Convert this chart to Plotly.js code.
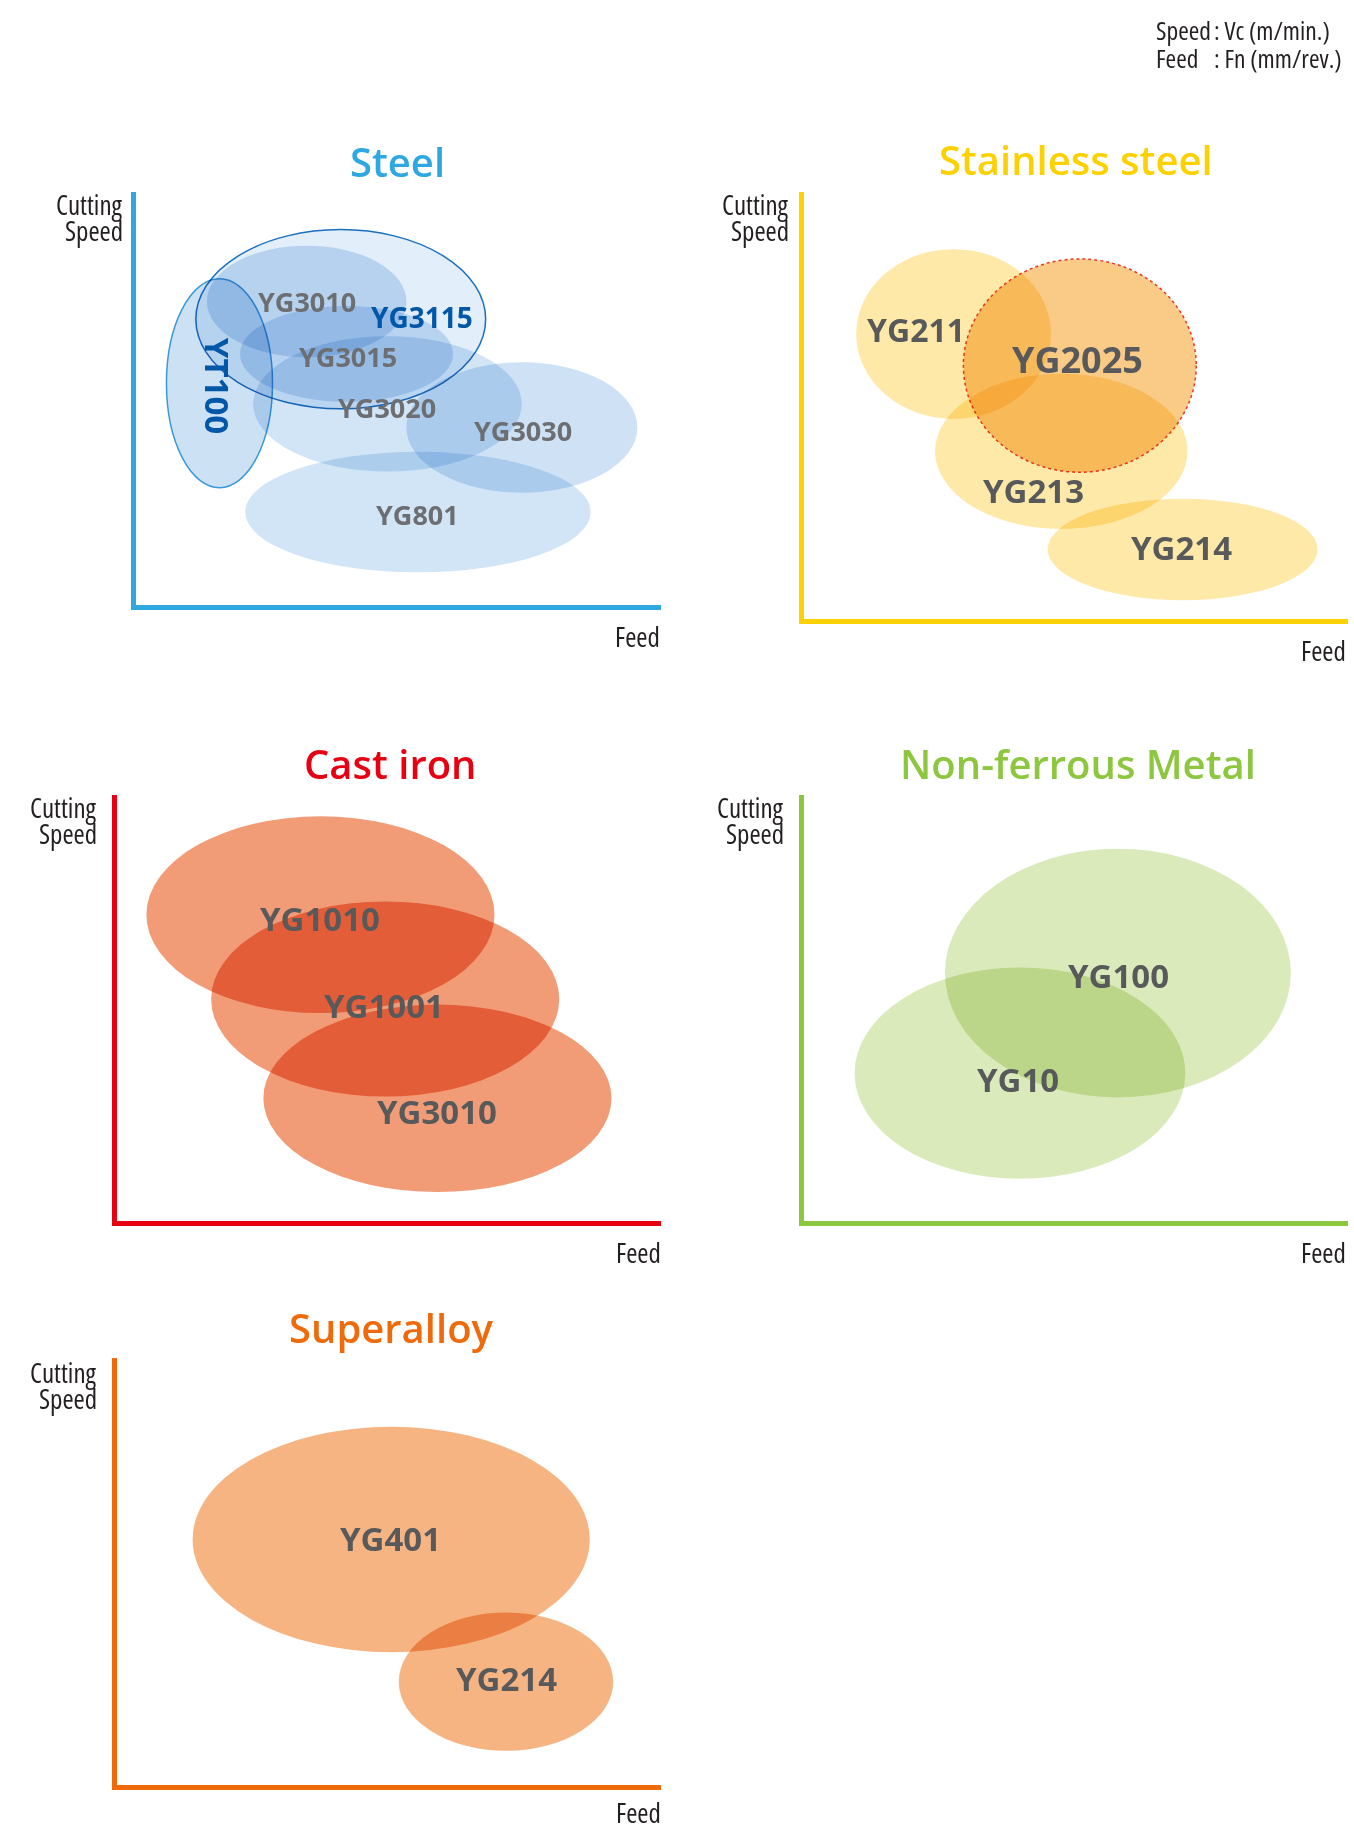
<!DOCTYPE html>
<html>
<head>
<meta charset="utf-8">
<script src="https://cdn.plot.ly/plotly-3.0.1.min.js"></script>
<style>
  html, body { margin: 0; padding: 0; background: #fff; }
  #chart { width: 1354px; height: 1825px; }
  /* overlapping regions darken like print inks */
  .shapelayer g, .shapelayer path { mix-blend-mode: multiply; }
  /* narrow face for the axis names and the units note */
  text[style*="Condensed"] { font-stretch: 75%; }
</style>
</head>
<body>
<div id="chart"></div>
<script>
// --- Grade regions: centre and half-spread on relative Feed / Cutting Speed (0-100) ---
const steelNames  = ['YG801', 'YG3030', 'YG3020', 'YG3015', 'YG3010', 'YT100', 'YG3115'];
const steelFeed   = [53.7, 73.5, 47.9, 40.1, 32.5, 15.9, 39.0];
const steelSpeed  = [22.5, 43.0, 48.7, 60.8, 73.5, 53.7, 69.2];
const steelFeedR  = [32.9, 22.0, 25.6, 20.3, 19.0, 10.1, 27.6];
const steelSpeedR = [14.6, 15.8, 16.4, 11.6, 13.5, 25.3, 21.7];
const steelLabelFeed  = [53.7, 73.7, 47.8, 40.4, 32.6, 15.4, 54.4];
const steelLabelSpeed = [21.9, 42.3, 47.9, 60.2, 73.4, 53.1, 69.8];

const stainNames  = ['YG214', 'YG213', 'YG211', 'YG2025'];
const stainFeed   = [69.6, 47.3, 27.5, 50.7];
const stainSpeed  = [16.2, 39.2, 66.7, 59.3];
const stainFeedR  = [24.8, 23.2, 17.9, 21.4];
const stainSpeedR = [11.9, 18.2, 19.9, 25.0];
const stainLabelFeed  = [69.4, 42.2, 20.5, 50.3];
const stainLabelSpeed = [16.7, 30.1, 67.8, 60.8];

const castNames  = ['YG1010', 'YG1001', 'YG3010'];
const castFeed   = [37.4, 49.3, 58.9];
const castSpeed  = [71.9, 52.1, 28.8];
const castFeedR  = [32.0, 32.0, 32.0];
const castSpeedR = [23.1, 22.9, 22.0];
const castLabelFeed  = [37.4, 49.1, 58.8];
const castLabelSpeed = [70.9, 50.6, 25.8];

const nonfNames  = ['YG100', 'YG10'];
const nonfFeed   = [57.7, 39.7];
const nonfSpeed  = [58.2, 34.7];
const nonfFeedR  = [31.8, 30.4];
const nonfSpeedR = [29.2, 24.8];
const nonfLabelFeed  = [57.8, 39.4];
const nonfLabelSpeed = [57.7, 33.3];

const superNames  = ['YG401', 'YG214'];
const superFeed   = [50.4, 71.5];
const superSpeed  = [57.5, 24.2];
const superFeedR  = [36.5, 19.7];
const superSpeedR = [26.4, 16.2];
const superLabelFeed  = [50.3, 71.6];
const superLabelSpeed = [57.7, 24.9];

// --- Styles ---
const W = 1354, H = 1825;
const px = x => x / W;
const py = y => 1 - y / H;
const condensed = '"Open Sans", "DejaVu Sans Condensed", sans-serif';
const bold = '"Open Sans", "Noto Sans", sans-serif';
const GRAY = '#58595b';
const INK = '#231f20';

const panels = [
  { title: 'Steel', color: '#2fa8e1', box: [136, 661, 192, 605], titleX: 397, titleY: 161,
    speedLabel: [125, 205, 231], feedLabel: [662, 636],
    names: steelNames, feed: steelFeed, speed: steelSpeed, feedR: steelFeedR, speedR: steelSpeedR,
    lf: steelLabelFeed, ls: steelLabelSpeed,
    fills: ['#d2e5f6', '#cfe2f5', '#d2e5f6', '#cfe2f5', '#cee1f4', '#cde1f4', '#e2eefa'],
    lines: [null, null, null, null, null, '#3a9ad9', '#1a6fbe'],
    dash: 'solid',
    labelColors: ['#6d6e71', '#6d6e71', '#6d6e71', '#6d6e71', '#6d6e71', '#0057a8', '#0057a8'],
    labelSizes: [27, 27, 27, 27, 27, 33, 28], angles: [0, 0, 0, 0, 0, 90, 0] },
  { title: 'Stainless steel', color: '#fdd000', box: [804, 1348, 192, 618.5], titleX: 1076, titleY: 160,
    speedLabel: [791, 204, 230], feedLabel: [1348, 650],
    names: stainNames, feed: stainFeed, speed: stainSpeed, feedR: stainFeedR, speedR: stainSpeedR,
    lf: stainLabelFeed, ls: stainLabelSpeed,
    fills: ['#fee9a8', '#fee9a8', '#fee9a8', '#f9cb86'],
    lines: [null, null, null, '#e83828'],
    dash: 'dot',
    labelColors: [GRAY, GRAY, GRAY, GRAY],
    labelSizes: [33, 33, 32, 36], angles: [0, 0, 0, 0] },
  { title: 'Cast iron', color: '#e60012', box: [117, 661, 795, 1221], titleX: 390, titleY: 763,
    speedLabel: [99, 807, 833], feedLabel: [663, 1252],
    names: castNames, feed: castFeed, speed: castSpeed, feedR: castFeedR, speedR: castSpeedR,
    lf: castLabelFeed, ls: castLabelSpeed,
    fills: ['#f19b77', '#f19b77', '#f19b77'],
    lines: [null, null, null], dash: 'solid',
    labelColors: [GRAY, GRAY, GRAY], labelSizes: [33, 33, 33], angles: [0, 0, 0] },
  { title: 'Non-ferrous Metal', color: '#8dc63f', box: [804, 1348, 795, 1221], titleX: 1078, titleY: 763,
    speedLabel: [785.5, 807, 833], feedLabel: [1348, 1252],
    names: nonfNames, feed: nonfFeed, speed: nonfSpeed, feedR: nonfFeedR, speedR: nonfSpeedR,
    lf: nonfLabelFeed, ls: nonfLabelSpeed,
    fills: ['#dbeabb', '#dbeabb'], lines: [null, null], dash: 'solid',
    labelColors: [GRAY, GRAY], labelSizes: [33, 33], angles: [0, 0] },
  { title: 'Superalloy', color: '#ee6a0b', box: [117, 661, 1358, 1785], titleX: 391, titleY: 1327,
    speedLabel: [99, 1372, 1398], feedLabel: [663, 1812],
    names: superNames, feed: superFeed, speed: superSpeed, feedR: superFeedR, speedR: superSpeedR,
    lf: superLabelFeed, ls: superLabelSpeed,
    fills: ['#f5b482', '#f5b482'], lines: [null, null], dash: 'solid',
    labelColors: [GRAY, GRAY], labelSizes: [33, 33], angles: [0, 0] }
];

const layout = {
  width: W, height: H,
  margin: { l: 0, r: 0, t: 0, b: 0 },
  paper_bgcolor: '#fff', plot_bgcolor: 'rgba(0,0,0,0)',
  showlegend: false,
  shapes: [], annotations: []
};

panels.forEach((p, i) => {
  const n = i === 0 ? '' : String(i + 1);
  const axBase = {
    range: [0, 100], showline: true, linecolor: p.color, linewidth: 5,
    showgrid: false, zeroline: false, showticklabels: false, ticks: '', fixedrange: true
  };
  layout['xaxis' + n] = { ...axBase, domain: [px(p.box[0]), px(p.box[1])], anchor: 'y' + n };
  layout['yaxis' + n] = { ...axBase, domain: [py(p.box[3]), py(p.box[2])], anchor: 'x' + n };

  p.names.forEach((name, k) => {
    layout.shapes.push({
      type: 'circle', xref: 'x' + n, yref: 'y' + n,
      x0: p.feed[k] - p.feedR[k], x1: p.feed[k] + p.feedR[k],
      y0: p.speed[k] - p.speedR[k], y1: p.speed[k] + p.speedR[k],
      fillcolor: p.fills[k],
      line: p.lines[k] ? { color: p.lines[k], width: 1.5, dash: p.dash } : { width: 0 }
    });
    layout.annotations.push({
      xref: 'x' + n, yref: 'y' + n, x: p.lf[k], y: p.ls[k],
      text: name, showarrow: false, textangle: p.angles[k],
      font: { family: bold, size: p.labelSizes[k], color: p.labelColors[k], weight: 700 }
    });
  });

  // panel title
  layout.annotations.push({
    xref: 'paper', yref: 'paper', x: px(p.titleX), y: py(p.titleY),
    xanchor: 'center', yanchor: 'middle', text: p.title, showarrow: false,
    font: { family: bold, size: 40, color: p.color, weight: 600 }
  });
  // axis names
  ['Cutting', 'Speed'].forEach((t, k) => {
    layout.annotations.push({
      xref: 'paper', yref: 'paper', x: px(p.speedLabel[0]), y: py(p.speedLabel[1 + k]),
      xanchor: 'right', yanchor: 'middle', text: t, showarrow: false,
      font: { family: condensed, size: 27, color: INK, weight: 400 }
    });
  });
  layout.annotations.push({
    xref: 'paper', yref: 'paper', x: px(p.feedLabel[0]), y: py(p.feedLabel[1]),
    xanchor: 'right', yanchor: 'middle', text: 'Feed', showarrow: false,
    font: { family: condensed, size: 27, color: INK, weight: 400 }
  });
});

// units note, top right
[['Speed', 1154, 29.5], ['Feed', 1154, 57.5], [': Vc (m/min.)', 1212, 29.5], [': Fn (mm/rev.)', 1212, 57.5]]
  .forEach(([t, x, y]) => {
    layout.annotations.push({
      xref: 'paper', yref: 'paper', x: px(x), y: py(y), xanchor: 'left', yanchor: 'middle',
      text: t, showarrow: false, font: { family: condensed, size: 25.5, color: INK, weight: 400 }
    });
  });

Plotly.newPlot('chart', [], layout, { displayModeBar: false, staticPlot: true });
</script>
</body>
</html>
